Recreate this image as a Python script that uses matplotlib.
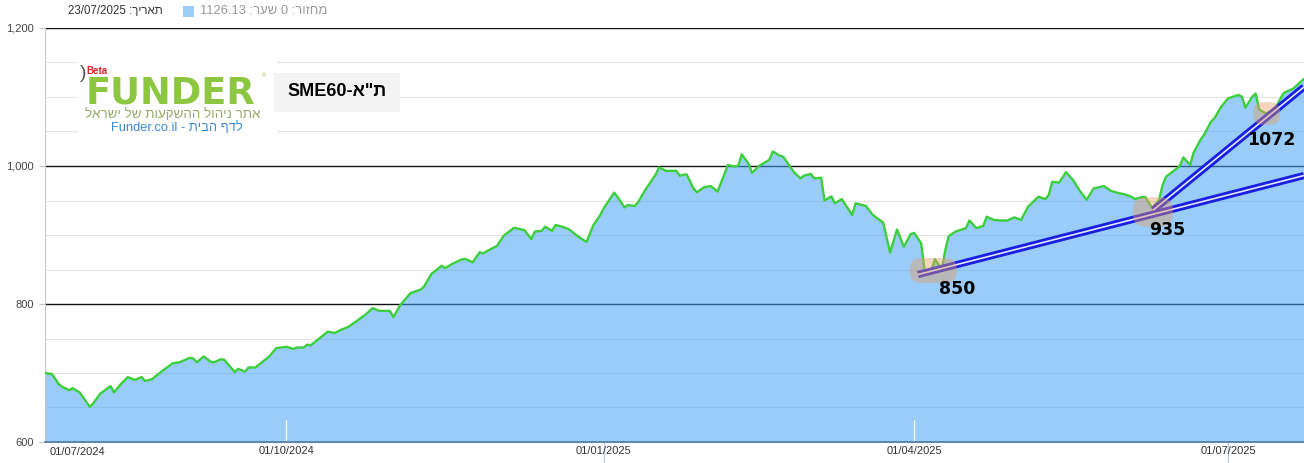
import numpy as np
import pandas as pd
import matplotlib
matplotlib.use("Agg")
import matplotlib.pyplot as plt
import matplotlib.dates as mdates
from matplotlib.ticker import FixedLocator, FixedFormatter, StrMethodFormatter
from matplotlib.patches import FancyBboxPatch, Rectangle

plt.rcParams['font.family'] = ['Liberation Sans', 'DejaVu Sans']

# =========================================================
# DATA
# =========================================================

start_date = pd.Timestamp("2024-07-23")

# days since start_date
day_offset = [
    0, 2, 4, 5, 7, 8, 10, 11, 13, 14, 16, 19, 20, 22, 24, 26, 28, 29, 31, 34,
    37, 39, 42, 43, 44, 46, 48, 49, 51, 52, 55, 56, 58, 59, 61, 63, 65, 67, 70, 72,
    73, 75, 76, 77, 80, 82, 84, 86, 88, 90, 93, 95, 97, 100, 101, 103, 106, 109, 110, 112,
    115, 116, 118, 121, 122, 124, 126, 127, 129, 131, 133, 136, 139, 141, 142, 144, 145, 147, 148, 150,
    152, 154, 156, 157, 159, 161, 162, 165, 166, 168, 169, 171, 172, 174, 176, 177, 178, 180, 183, 184,
    186, 188, 189, 191, 193, 195, 198, 200, 201, 202, 204, 205, 207, 209, 210, 211, 213, 214, 216, 217,
    219, 220, 222, 223, 225, 226, 228, 229, 231, 234, 235, 238, 240, 243, 245, 247, 249, 251, 252, 254,
    255, 257, 258, 260, 261, 262, 264, 267, 268, 270, 272, 273, 275, 277, 279, 281, 283, 285, 288, 290,
    291, 292, 294, 296, 298, 300, 302, 304, 305, 307, 309, 311, 313, 315, 316, 318, 319, 321, 323, 324,
    325, 327, 329, 330, 332, 333, 335, 336, 338, 339, 341, 343, 346, 347, 348, 350, 351, 352, 354, 356,
    357, 359, 360, 362, 364, 365,
]

index_value = [
    700, 698.5, 684, 680, 675, 678, 672, 665, 651, 656, 670, 681, 672, 684, 694, 690, 694, 688.5, 691, 703,
    714, 715.5, 722, 721, 715.5, 724, 716.5, 715.5, 720, 719, 701.5, 706, 702, 708, 708, 716, 724, 736, 738, 735,
    737, 737, 741, 740, 752, 760, 758, 763, 767, 774, 785, 794, 790, 790, 781, 798.5, 816, 821, 826, 843.5,
    855.5, 852, 858, 865, 865, 860.5, 875, 873.5, 879, 884, 899, 910.5, 907, 894, 905, 906, 912, 906, 914.5, 912,
    908, 900, 893, 890, 914.5, 929, 939, 961.5, 955, 940, 943.5, 942, 948, 965, 980, 987, 998, 993, 993, 986,
    988, 967.5, 962, 969, 971, 963, 1001.5, 999, 1000.5, 1017, 1003, 990, 1000, 1006, 1009, 1021, 1015, 1013.5, 999, 992,
    982, 986, 988.5, 982, 983, 950, 956, 946, 952, 929, 946, 942, 929, 918, 874.5, 908, 883, 901.5, 903, 888,
    849, 849, 865, 850, 878, 898.5, 905, 910, 921, 910, 913, 926.5, 922, 921, 921, 925.5, 922, 941, 955.5, 952,
    958, 977, 976, 991, 980, 964, 951, 967.5, 968.5, 971, 964, 961, 959, 955.5, 952, 955, 955, 939, 951, 972.5,
    984.5, 992, 1000, 1012.5, 1001.5, 1019.5, 1038, 1045, 1064, 1069, 1086, 1098, 1103, 1100.5, 1084.5, 1100.5, 1105, 1082, 1076, 1081,
    1087, 1105, 1108, 1112.5, 1122, 1126.13,
]

# support lines drawn on the chart
trend_start_day = [253.1, 321.3]
trend_start_val = [842.7, 936.2]
trend_end_day = [365, 365]
trend_end_val = [986.2, 1114.5]

# marked lows
mark_day = [257.5, 321.2, 354.2]
mark_val = [848.6, 933.3, 1076.1]
mark_label = ["850", "935", "1072"]

tick_dates = ["2024-10-01", "2025-01-01", "2025-04-01", "2025-07-01"]
tick_labels = ["01/10/2024", "01/01/2025", "01/04/2025", "01/07/2025"]
first_tick_label = "01/07/2024"

y_ticks = [600, 800, 1000, 1200]

header_date = "23/07/2025"
header_close = 1126.13
header_turnover = 0


def heb(s):
    # matplotlib has no bidi support: hand it the visual order
    return s[::-1]


# =========================================================
# FIGURE
# =========================================================

W, H = 1304, 463
fig = plt.figure(figsize=(W / 100, H / 100), dpi=100)


def fx(px):
    return px / W


def fy(py):
    return 1 - py / H


ax = fig.add_axes([fx(45), fy(442), 1 - fx(45), fy(28) - fy(442)])

dates = start_date + pd.to_timedelta(day_offset, unit="D")
x = mdates.date2num(dates)

ax.set_xlim(x[0], x[-1])
ax.set_ylim(600, 1200)

# grid lines below the area fill
for v in np.arange(650, 1200, 50):
    if v not in y_ticks:
        ax.axhline(v, color="#e4e4e4", lw=0.8, zorder=0.2)
for v in y_ticks[1:]:
    ax.axhline(v, color="#111111", lw=1.0, zorder=0.3)

ax.fill_between(x, index_value, 600, color="#46a2f4", alpha=0.55, lw=0, zorder=1)
ax.plot(x, index_value, color="#3ccf3c", lw=1.7, zorder=3)

# support lines (double blue)
for d0, v0, d1, v1 in zip(trend_start_day, trend_start_val, trend_end_day, trend_end_val):
    xs = mdates.date2num([start_date + pd.Timedelta(days=d0), start_date + pd.Timedelta(days=d1)])
    ax.plot(xs, [v0, v1], color="#1a1ee0", lw=5.2, solid_capstyle="butt", zorder=4)
    ax.plot(xs, [v0, v1], color="#dfe6ff", lw=1.2, solid_capstyle="butt", zorder=4.1)

# marked lows
blob_size = [(13.6, 36), (11.6, 43), (7.8, 33)]
label_offset = [(17, -13), (10, -13), (3, -19)]
aspect = 5.0
for d, v, lab, (bw, bh), off in zip(mark_day, mark_val, mark_label, blob_size, label_offset):
    cx = mdates.date2num(start_date + pd.Timedelta(days=d))
    r = 0.45 * min(bw, bh / aspect)
    ax.add_patch(FancyBboxPatch((cx - bw / 2, v - bh / 2), bw, bh,
                                boxstyle=f"round,pad=0,rounding_size={r}",
                                mutation_aspect=aspect, fc=(0.905, 0.615, 0.376, 0.42),
                                ec="none", zorder=5))
    ax.annotate(lab, (cx, v), xytext=off, textcoords="offset points",
                ha="center", va="center", fontsize=12.5, fontweight="bold",
                family=["DejaVu Sans"], color="black", zorder=6)

# axes styling
for s in ["top", "right"]:
    ax.spines[s].set_visible(False)
ax.spines["left"].set_color("#c8c8c8")
ax.spines["bottom"].set_color("#4a78aa")
ax.spines["bottom"].set_linewidth(1.2)

ax.set_yticks(y_ticks)
ax.yaxis.set_major_formatter(StrMethodFormatter("{x:,.0f}"))
ax.tick_params(axis="y", length=4.3, color="#c0c0c0", pad=3.6, labelsize=8, labelcolor="#444444")

tick_dt = pd.to_datetime(tick_dates)
maj = [i for i, t in enumerate(tick_dt) if t.month in (1, 7)]
mnr = [i for i, t in enumerate(tick_dt) if t.month not in (1, 7)]
ax.xaxis.set_major_locator(FixedLocator(mdates.date2num(tick_dt[maj])))
ax.xaxis.set_major_formatter(FixedFormatter([tick_labels[i] for i in maj]))
ax.xaxis.set_minor_locator(FixedLocator(mdates.date2num(tick_dt[mnr])))
ax.xaxis.set_minor_formatter(FixedFormatter([tick_labels[i] for i in mnr]))
ax.tick_params(axis="x", which="major", direction="out", length=15, width=1,
               color="#b8d0e8", pad=-12, labelsize=8, labelcolor="#333333")
ax.tick_params(axis="x", which="minor", direction="in", length=16, width=1,
               color="white", pad=3, labelsize=8, labelcolor="#333333")

fig.text(fx(50), fy(452), first_tick_label, ha="left", va="center", fontsize=8, color="#333333")

# header
fig.text(fx(163), fy(11), f"{header_date} :" + heb("תאריך"), ha="right", va="center",
         fontsize=8.3, color="#333333")
fig.add_artist(Rectangle((fx(183), fy(17)), fx(11), fy(6) - fy(17), transform=fig.transFigure,
                         fc="#9bcdf8", ec="none"))
fig.text(fx(200), fy(11), f"{header_close:.2f} :" + heb("שער") + f" {header_turnover} :" + heb("מחזור"),
         ha="left", va="center", fontsize=9.4, color="#999999")

# logo box
fig.add_artist(Rectangle((fx(78), fy(137)), fx(199), fy(57) - fy(137), transform=fig.transFigure,
                         fc="white", ec="none", zorder=2))
fig.text(fx(80), fy(74), ")", ha="left", va="center", fontsize=14, color="#555555", zorder=3)
fig.text(fx(86), fy(73.5), "Beta", ha="left", va="baseline", fontsize=7, fontweight="bold",
         color="#e3242b", zorder=3)
fig.text(fx(86), fy(103), "FUNDER", ha="left", va="baseline", fontsize=26.5, fontweight="bold",
         family=["DejaVu Sans"], color="#8dc641", zorder=3)
fig.text(fx(262), fy(76), "®", ha="left", va="center", fontsize=4, color="#8dc641", zorder=3)
fig.text(fx(173), fy(115), heb("אתר ניהול ההשקעות של ישראל"), ha="center", va="center",
         fontsize=9.6, color="#97aa6b", zorder=3)
fig.text(fx(177), fy(128), "Funder.co.il - " + heb("לדף הבית"), ha="center", va="center",
         fontsize=9.3, color="#3a8ad6", zorder=3)

# title box
fig.add_artist(Rectangle((fx(274), fy(112)), fx(126), fy(73) - fy(112), transform=fig.transFigure,
                         fc="#f3f3f3", ec="none", zorder=2))
fig.text(fx(337), fy(92), "SME60-" + heb('ת"א'), ha="center", va="center",
         fontsize=13, fontweight="bold", color="black", zorder=3)

fig.savefig("out.png", dpi=100)
